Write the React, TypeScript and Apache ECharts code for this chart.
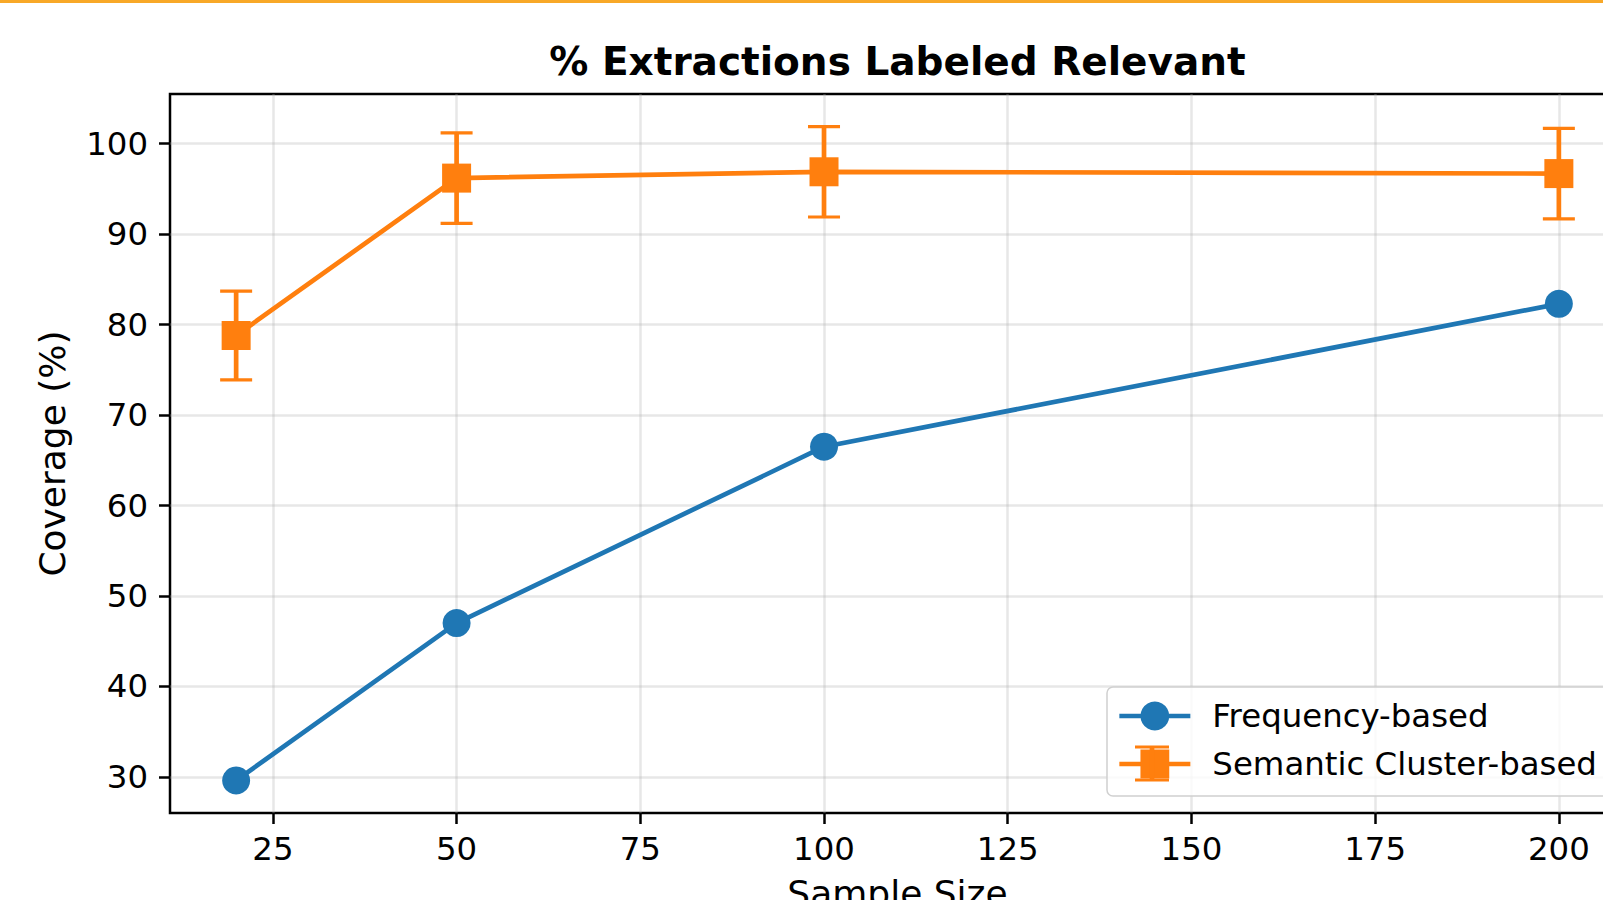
import React, { useEffect, useRef } from 'react';
import * as echarts from 'echarts';

const sampleSizes = [20, 50, 100, 200];
const frequencyBased = [29.6, 47.0, 66.5, 82.3];
const semanticCluster = [78.8, 96.2, 96.9, 96.7];
const semanticError = [4.9, 5.0, 5.0, 5.0];
const xTicks = [25, 50, 75, 100, 125, 150, 175, 200];
const yTicks = [30, 40, 50, 60, 70, 80, 90, 100];
const seriesNames = ['Frequency-based', 'Semantic Cluster-based'];
const titleText = '% Extractions Labeled Relevant';
const xName = 'Sample Size';
const yName = 'Coverage (%)';

const FONT = 'DejaVu Sans';
const FS = 32.4;
const NAME_FS = 36;
const BLUE = '#1f77b4';
const ORANGE = '#ff7f0e';

export default function App() {
  const ref = useRef<HTMLDivElement>(null);
  useEffect(() => {
    if (!ref.current) return;
    const chart = echarts.init(ref.current, undefined, { renderer: 'svg' });
    const errData = sampleSizes.map((x, i) => [
      x,
      semanticCluster[i] - semanticError[i],
      semanticCluster[i] + semanticError[i],
    ]);
    // legend handle error-bar decoration (legend glyph only)
    const hx = 1152;
    const hy = 763.5;
    const option: any = {
      animation: false,
      backgroundColor: '#ffffff',
      title: {
        text: titleText,
        left: 897.5,
        top: 42,
        textAlign: 'center',
        padding: 0,
        textStyle: { fontFamily: FONT, fontSize: 39, fontWeight: 'bold', color: '#000' },
      },
      graphic: [
        { type: 'rect', shape: { x: 0, y: 0, width: 1603, height: 3 }, style: { fill: '#f8a828' }, z: 100 },
        { type: 'line', shape: { x1: hx, y1: hy - 16.5, x2: hx, y2: hy + 16.5 }, style: { stroke: ORANGE, lineWidth: 4.7 }, z: 100 },
        { type: 'line', shape: { x1: hx - 17, y1: hy - 16.5, x2: hx + 17, y2: hy - 16.5 }, style: { stroke: ORANGE, lineWidth: 3.2 }, z: 100 },
        { type: 'line', shape: { x1: hx - 17, y1: hy + 16.5, x2: hx + 17, y2: hy + 16.5 }, style: { stroke: ORANGE, lineWidth: 3.2 }, z: 100 },
      ],
      grid: {
        left: 170,
        top: 94,
        width: 1455,
        height: 719,
        outerBoundsMode: 'none',
        containLabel: false,
        show: true,
        borderColor: '#000',
        borderWidth: 2.5,
        backgroundColor: 'transparent',
      },
      legend: {
        data: seriesNames,
        orient: 'vertical',
        left: 1107,
        top: 687,
        padding: [13, 14, 16, 10],
        itemWidth: 71,
        itemHeight: 36,
        itemGap: 16,
        backgroundColor: 'rgba(255,255,255,0.8)',
        borderColor: '#d0d0d0',
        borderWidth: 1.5,
        borderRadius: 6,
        lineStyle: { width: 4.7 },
        textStyle: { fontFamily: FONT, fontSize: FS, color: '#000', padding: [0, 0, 0, 17] },
      },
      xAxis: {
        type: 'value',
        min: 11,
        max: 209,
        name: xName,
        nameLocation: 'middle',
        nameGap: 62,
        nameTextStyle: { fontFamily: FONT, fontSize: NAME_FS, color: '#000' },
        axisLine: { show: false },
        axisTick: { show: true, length: 11, customValues: xTicks, lineStyle: { color: '#000', width: 2.5 } },
        axisLabel: { customValues: xTicks, margin: 20, fontFamily: FONT, fontSize: FS, color: '#000' },
        splitLine: { show: true, lineStyle: { color: '#b0b0b0', opacity: 0.3, width: 2.5 } },
      },
      yAxis: {
        type: 'value',
        min: 26,
        max: 105.5,
        name: yName,
        nameLocation: 'middle',
        nameGap: 100,
        nameTextStyle: { fontFamily: FONT, fontSize: NAME_FS, color: '#000' },
        axisLine: { show: false },
        axisTick: { show: true, length: 11, customValues: yTicks, lineStyle: { color: '#000', width: 2.5 } },
        axisLabel: { customValues: yTicks, margin: 22, fontFamily: FONT, fontSize: FS, color: '#000' },
        splitLine: { show: true, lineStyle: { color: '#b0b0b0', opacity: 0.3, width: 2.5 } },
      },
      series: [
        {
          name: seriesNames[0],
          type: 'line',
          data: sampleSizes.map((x, i) => [x, frequencyBased[i]]),
          symbol: 'circle',
          symbolSize: 28,
          itemStyle: { color: BLUE },
          lineStyle: { color: BLUE, width: 4.7 },
          z: 3,
        },
        {
          name: 'errorbars',
          type: 'custom',
          data: errData,
          encode: { x: 0, y: [1, 2] },
          silent: true,
          z: 2,
          renderItem: (params: any, api: any) => {
            const x = api.value(0);
            const lo = api.coord([x, api.value(1)]);
            const hi = api.coord([x, api.value(2)]);
            const cap = 16;
            return {
              type: 'group',
              children: [
                { type: 'line', shape: { x1: lo[0], y1: lo[1], x2: hi[0], y2: hi[1] }, style: { stroke: ORANGE, lineWidth: 4.7 } },
                { type: 'line', shape: { x1: hi[0] - cap, y1: hi[1], x2: hi[0] + cap, y2: hi[1] }, style: { stroke: ORANGE, lineWidth: 3.2 } },
                { type: 'line', shape: { x1: lo[0] - cap, y1: lo[1], x2: lo[0] + cap, y2: lo[1] }, style: { stroke: ORANGE, lineWidth: 3.2 } },
              ],
            };
          },
        },
        {
          name: seriesNames[1],
          type: 'line',
          data: sampleSizes.map((x, i) => [x, semanticCluster[i]]),
          symbol: 'rect',
          symbolSize: 29,
          itemStyle: { color: ORANGE },
          lineStyle: { color: ORANGE, width: 4.7 },
          z: 3,
        },
      ],
    };
    chart.setOption(option);
    return () => chart.dispose();
  }, []);
  return (
    <div
      ref={ref}
      style={{ position: 'absolute', left: 0, top: 0, width: 1603, height: 900, overflow: 'hidden' }}
    />
  );
}
